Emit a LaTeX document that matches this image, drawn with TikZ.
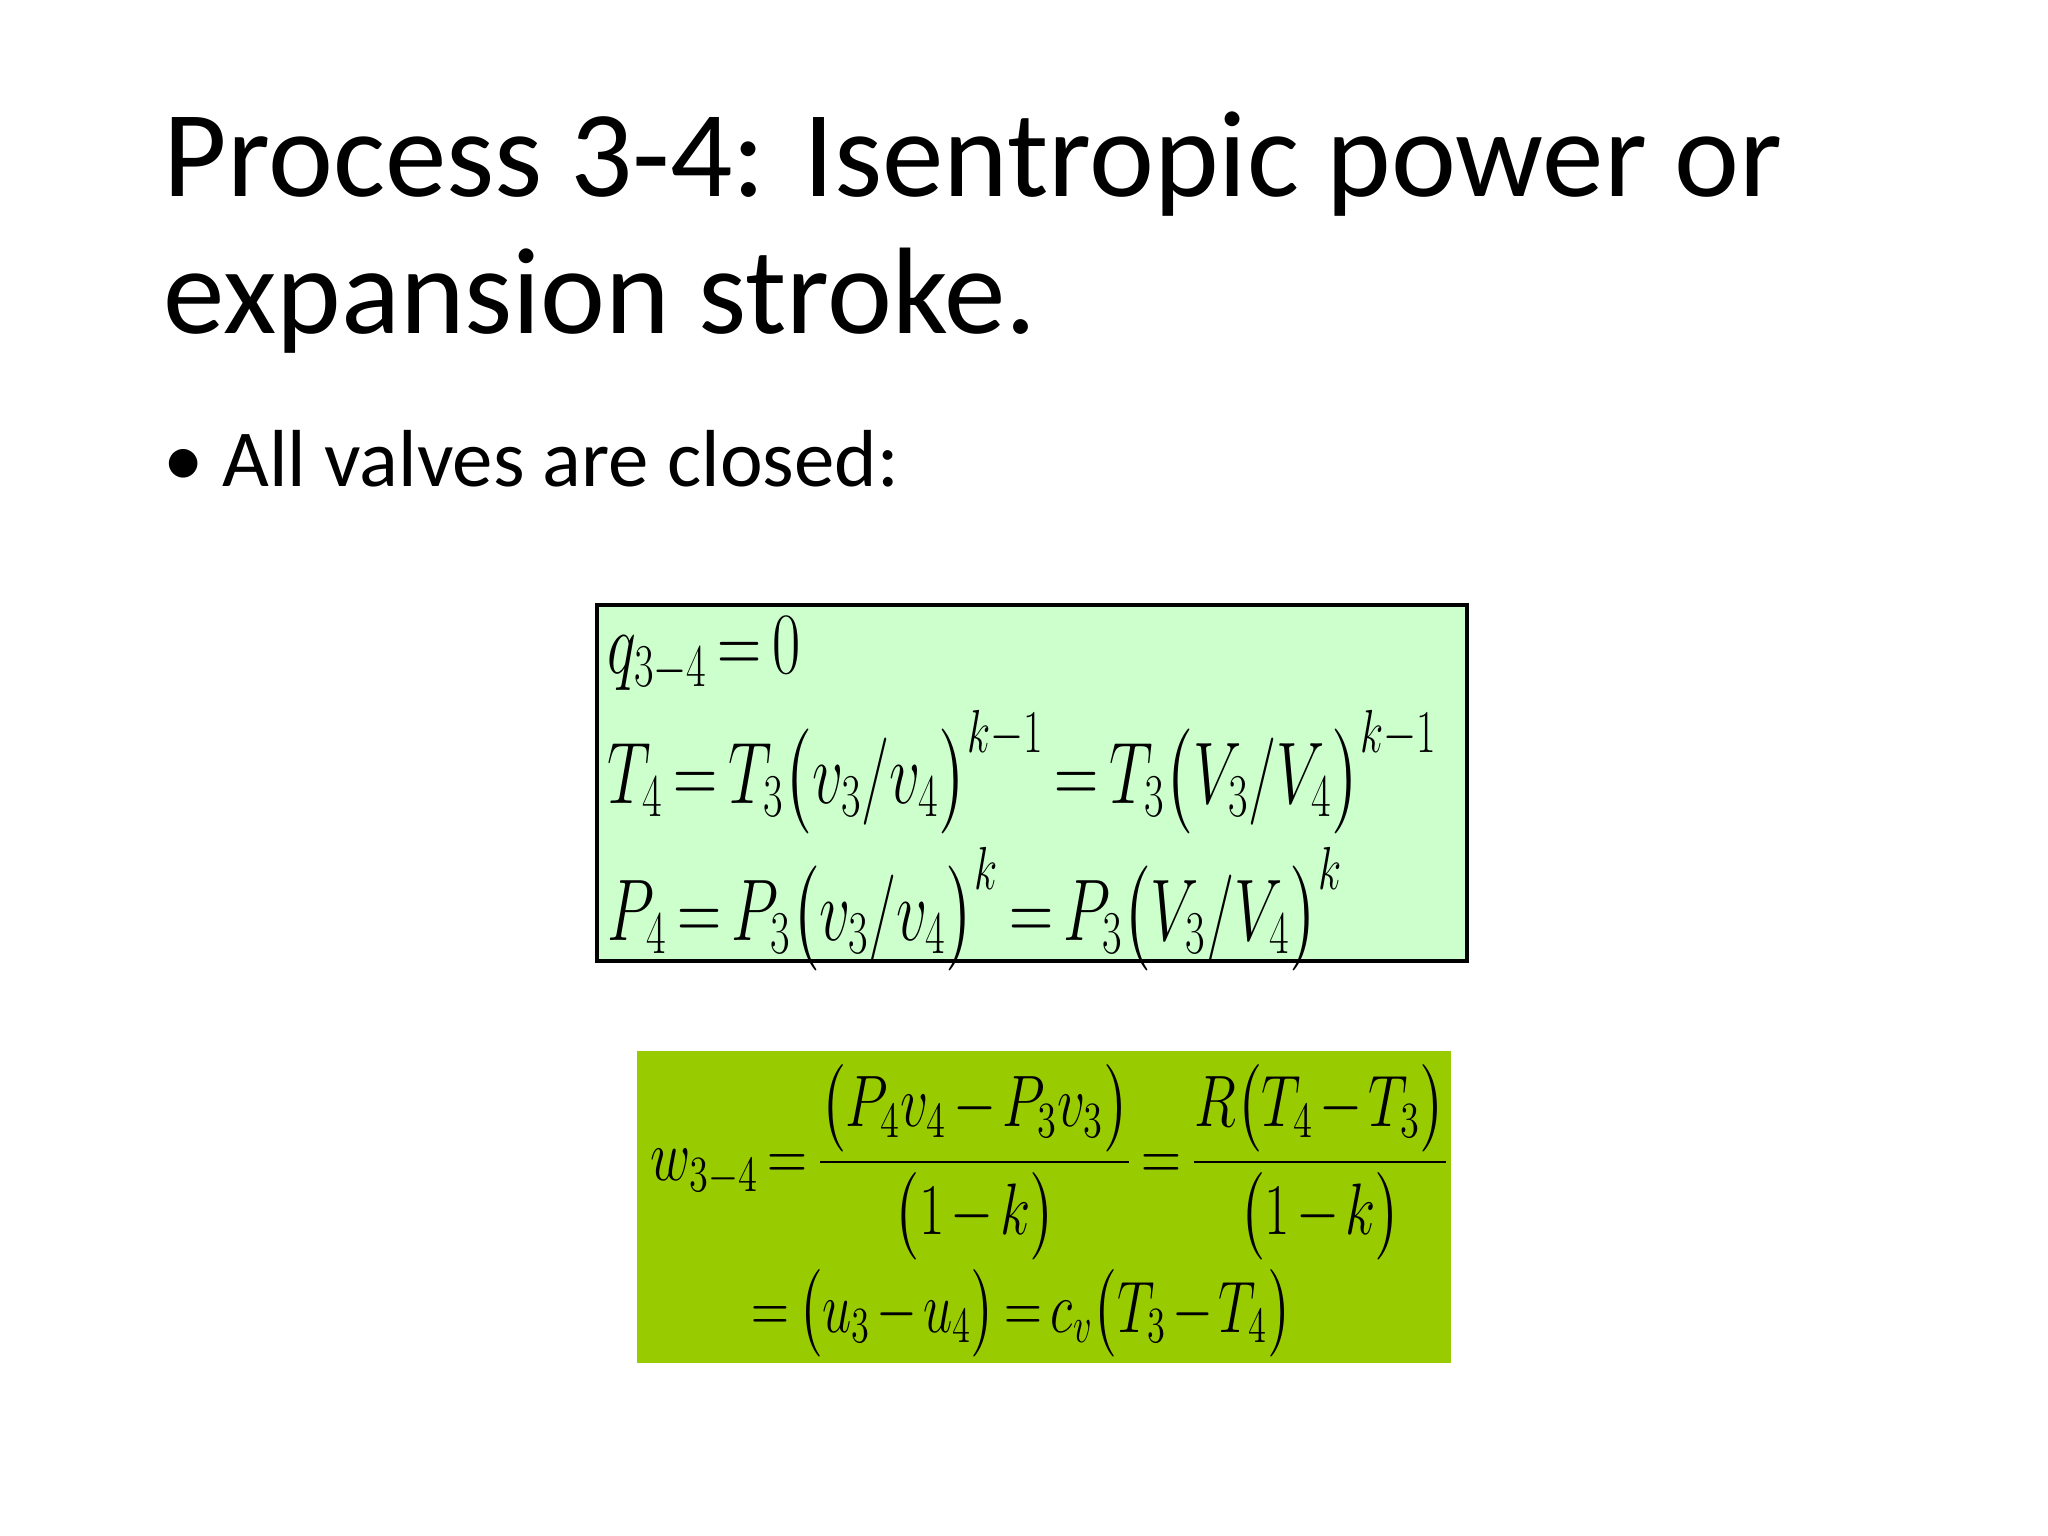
\documentclass[tikz,border=0pt]{standalone}
\usepackage{amsmath}
\usepackage{graphicx}
\usepackage{fontspec}
\setmainfont{Carlito}
\definecolor{lgreen}{RGB}{204,255,204}
\definecolor{dgreen}{RGB}{153,204,0}
\newcommand{\nm}[2][0.7]{\scalebox{#1}[1]{\thickmuskip=3mu\medmuskip=2mu$\displaystyle #2$}}
\begin{document}
\begin{tikzpicture}[x=0.01cm,y=-0.01cm,
  ttl/.style={anchor=base west,inner sep=0,font=\fontsize{35}{40}\selectfont},
  eq/.style={anchor=base west,inner sep=0,font=\fontsize{23}{27}\selectfont},
  eqb/.style={inner sep=0,font=\fontsize{21}{25}\selectfont}]
\useasboundingbox[fill=white] (0,0) rectangle (2048,1536);
\node[ttl] (t1) at (163,196) {Process 3-4: Isentropic power or};
\node[ttl] (t2) at (163,333) {expansion stroke.};
\node[anchor=base west,inner sep=0,font=\fontsize{23}{28}\selectfont] (b) at (163,486) {\textbullet\ All valves are closed:};
\draw[fill=lgreen,line width=1.2pt] (597,605) rectangle (1467,961);
\node[eq] (e1) at (607,673) {\nm{q_{3-4}=0}};
\node[eq] (e2) at (607,803) {\nm{T_4=T_3\bigl(v_3/v_4\bigr)^{k-1}=T_3\bigl(V_3/V_4\bigr)^{k-1}}};
\node[eq] (e3) at (607,940) {\nm{P_4=P_3\bigl(v_3/v_4\bigr)^{k}=P_3\bigl(V_3/V_4\bigr)^{k}}};
\fill[dgreen] (637,1051) rectangle (1451,1363);
\node[eqb,anchor=west] (e4) at (650,1162) {\nm[0.76]{w_{3-4}=\frac{\bigl(P_4v_4-P_3v_3\bigr)}{\bigl(1-k\bigr)}=\frac{R\bigl(T_4-T_3\bigr)}{\bigl(1-k\bigr)}}};
\node[eqb,anchor=base west] (e5) at (751,1332) {\nm[0.72]{=\bigl(u_3-u_4\bigr)=c_v\bigl(T_3-T_4\bigr)}};
\end{tikzpicture}
\end{document}
